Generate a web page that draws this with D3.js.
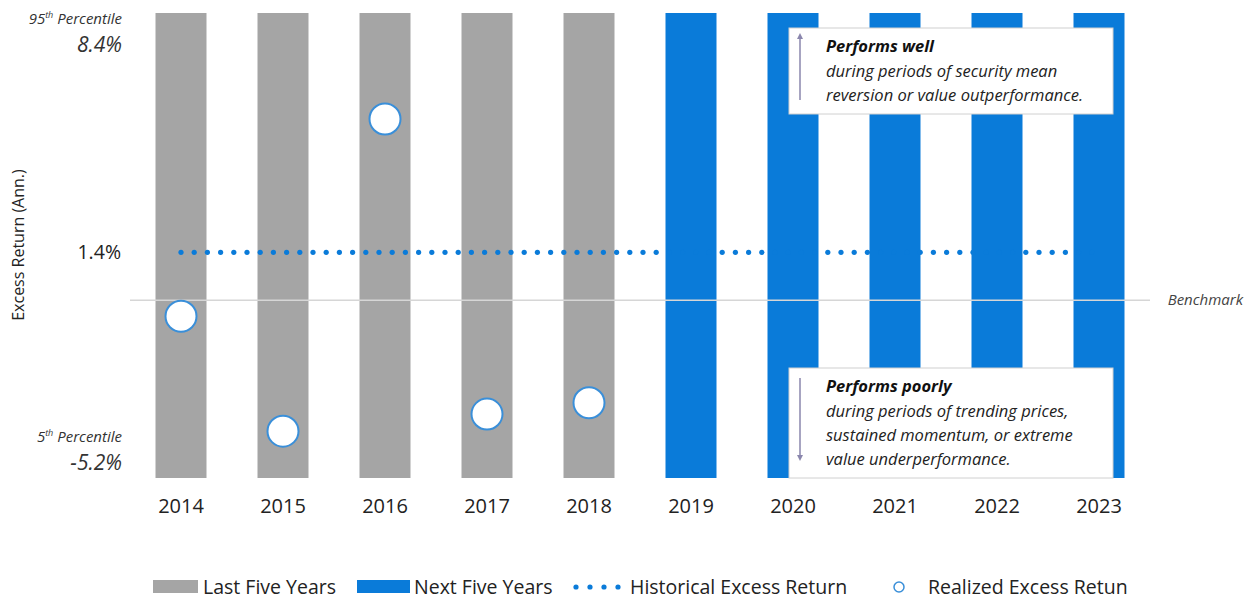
<!DOCTYPE html>
<html>
  <head>
    <meta charset="utf-8">
    <style>
      body { margin: 0; background: #fff; }
      svg text { font-family: "Open Sans", sans-serif; }
    </style>
    <script src="https://d3js.org/d3.v7.min.js"></script>
    <title>excess return</title>
  </head>
  <body>
    <div id="my_dataviz"></div>
    <script>
    // dati
    var years = ["2014","2015","2016","2017","2018","2019","2020","2021","2022","2023"]
    var period = ["last","last","last","last","last","next","next","next","next","next"]
    var realized = [-0.47, -3.83, 5.3, -3.33, -3.0]   // solo 2014-2018
    var historical = 1.4
    var p95 = 8.4, p5 = -5.2
    var legendLabels = ["Last Five Years","Next Five Years","Historical Excess Return","Realized Excess Retun"]

    var GRAY = "#a5a5a5", BLUE = "#0a7bd9"

    var W = 1250, H = 599
    var svg = d3.select("#my_dataviz").append("svg")
      .attr("width", W).attr("height", H)

    var x = d3.scaleBand().domain(years).range([130, 1150]).paddingInner(0.5).paddingOuter(0.25)
    var y = d3.scaleLinear().domain([p5, p95]).range([478, 13])

    // bars
    svg.selectAll("rect.bar").data(years).enter().append("rect")
      .attr("class","bar")
      .attr("x", d => x(d))
      .attr("width", x.bandwidth())
      .attr("y", y(p95))
      .attr("height", y(p5) - y(p95))
      .attr("fill", (d,i) => period[i] == "last" ? GRAY : BLUE)

    // benchmark line
    svg.append("line")
      .attr("x1", 130).attr("x2", 1150)
      .attr("y1", y(0)).attr("y2", y(0))
      .attr("stroke", "#d6d6d6").attr("stroke-width", 1.5)
    svg.append("text").attr("x", 1243).attr("y", y(0) + 5)
      .attr("text-anchor","end").attr("font-size", 15).attr("font-style","italic")
      .attr("fill","#444").text("Benchmark")

    // historical excess return (dotted)
    var dots = d3.range(x("2014") + x.bandwidth()/2, x("2023") + x.bandwidth()/2, 13.2)
    svg.selectAll("circle.hist").data(dots).enter().append("circle")
      .attr("class","hist")
      .attr("cx", d => d).attr("cy", y(historical)).attr("r", 2.6)
      .attr("fill", BLUE)

    // realized points
    svg.selectAll("circle.real").data(realized).enter().append("circle")
      .attr("class","real")
      .attr("cx", (d,i) => x(years[i]) + x.bandwidth()/2)
      .attr("cy", d => y(d))
      .attr("r", 15.5)
      .attr("fill", "#fff").attr("stroke", "#3a8fd9").attr("stroke-width", 2)

    // x axis labels
    svg.selectAll("text.year").data(years).enter().append("text")
      .attr("class","year")
      .attr("x", d => x(d) + x.bandwidth()/2).attr("y", 513)
      .attr("text-anchor","middle").attr("font-size", 20).attr("fill","#222")
      .text(d => d)

    // y labels
    var yl = svg.append("g").attr("fill","#333")
    var t1 = yl.append("text").attr("x", 122).attr("y", 24).attr("text-anchor","end")
      .attr("font-size", 15).attr("font-style","italic")
    t1.append("tspan").text("95")
    t1.append("tspan").attr("dy", -6).attr("font-size", 9).text("th")
    t1.append("tspan").attr("dy", 6).text(" Percentile")
    yl.append("text").attr("x", 122).attr("y", 52).attr("text-anchor","end")
      .attr("font-size", 21).attr("font-style","italic").text(p95 + "%")
    var t2 = yl.append("text").attr("x", 122).attr("y", 442).attr("text-anchor","end")
      .attr("font-size", 15).attr("font-style","italic")
    t2.append("tspan").text("5")
    t2.append("tspan").attr("dy", -6).attr("font-size", 9).text("th")
    t2.append("tspan").attr("dy", 6).text(" Percentile")
    yl.append("text").attr("x", 122).attr("y", 470).attr("text-anchor","end")
      .attr("font-size", 21).attr("font-style","italic").text(p5 + "%")
    yl.append("text").attr("x", 121).attr("y", y(historical) + 7).attr("text-anchor","end")
      .attr("font-size", 19.5).attr("fill","#222").text(historical + "%")
    svg.append("text")
      .attr("transform", "translate(24," + 245 + ") rotate(-90)")
      .attr("text-anchor","middle").attr("font-size", 16).attr("fill","#222")
      .text("Excess Return (Ann.)")

    // annotation boxes
    svg.append("defs").append("marker").attr("id","ah")
      .attr("viewBox","0 0 10 10").attr("refX",5).attr("refY",5)
      .attr("markerWidth",4).attr("markerHeight",4).attr("orient","auto-start-reverse")
      .append("path").attr("d","M0,0L10,5L0,10z").attr("fill","#8a86ad")

    function box(x0, y0, w, h, title, lines, up) {
      var g = svg.append("g")
      g.append("rect").attr("x", x0).attr("y", y0).attr("width", w).attr("height", h)
        .attr("fill","#fff").attr("stroke","#d0d0d0").attr("stroke-width",1)
      var a = g.append("line").attr("x1", x0 + 11).attr("x2", x0 + 11)
        .attr("stroke","#8a86ad").attr("stroke-width",1.5)
      if (up) a.attr("y1", y0 + h - 14).attr("y2", y0 + 8).attr("marker-end","url(#ah)")
      else a.attr("y1", y0 + 10).attr("y2", y0 + h - 20).attr("marker-end","url(#ah)")
      g.append("text").attr("x", x0 + 37).attr("y", y0 + 24)
        .attr("font-size", 16.5).attr("font-weight","bold").attr("font-style","italic")
        .attr("fill","#111").text(title)
      lines.forEach(function(l, i) {
        g.append("text").attr("x", x0 + 37).attr("y", y0 + 49 + i*24)
          .attr("font-size", 16.5).attr("font-style","italic").attr("fill","#222").text(l)
      })
    }
    box(789, 28, 324, 86, "Performs well",
      ["during periods of security mean", "reversion or value outperformance."], true)
    box(789, 368, 324, 110, "Performs poorly",
      ["during periods of trending prices,", "sustained  momentum,  or extreme", "value underperformance."], false)

    // legend
    var lg = svg.append("g").attr("font-size", 19.5).attr("fill","#222")
    lg.append("rect").attr("x",153).attr("y",580).attr("width",45).attr("height",13).attr("fill",GRAY)
    lg.append("text").attr("x",203).attr("y",594).text(legendLabels[0])
    lg.append("rect").attr("x",357).attr("y",580).attr("width",53).attr("height",13).attr("fill",BLUE)
    lg.append("text").attr("x",414).attr("y",594).text(legendLabels[1])
    lg.selectAll("circle.ld").data([0,1,2,3]).enter().append("circle")
      .attr("cx", d => 576 + d*14).attr("cy", 587).attr("r", 2.6).attr("fill", BLUE)
    lg.append("text").attr("x",630).attr("y",594).text(legendLabels[2])
    lg.append("circle").attr("cx",899).attr("cy",587).attr("r",5)
      .attr("fill","#fff").attr("stroke","#3a8fd9").attr("stroke-width",1.5)
    lg.append("text").attr("x",928).attr("y",594).text(legendLabels[3])
    </script>
  </body>
</html>
